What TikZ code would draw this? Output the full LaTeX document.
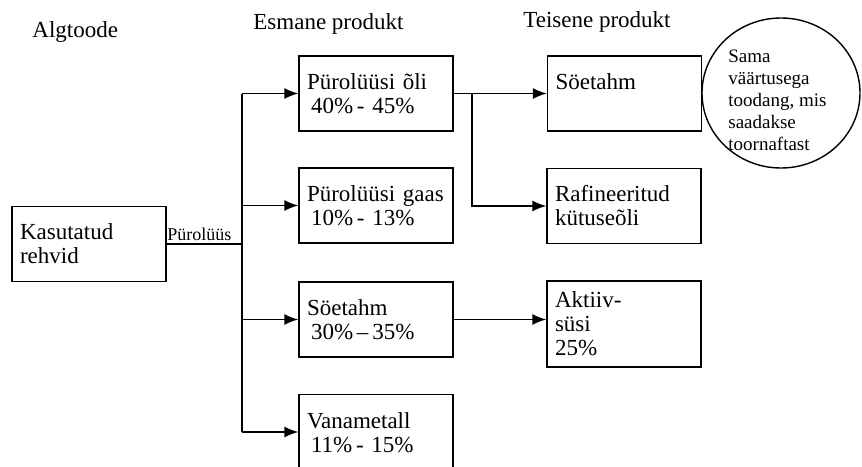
\documentclass[tikz,border=0pt]{standalone}
\usepackage{fontspec}
\setmainfont{Liberation Serif}
\usetikzlibrary{arrows.meta,positioning,shapes.geometric}
\tikzset{prodbox/.style={draw, line width=0.7pt, minimum height=37.5pt, text width=69pt, inner xsep=4pt, align=left, font=\fontsize{11.5}{12}\selectfont}}
\tikzset{heading/.style={anchor=base west, inner sep=0pt, font=\fontsize{11.5}{12}\selectfont}}
\tikzset{conn/.style={draw, line width=0.7pt}}
\tikzset{arr/.style={draw, line width=0.7pt, -{Latex[length=7pt,width=5.5pt]}}}
\newcommand{\pct}[1]{\hspace{2pt}#1}

\begin{document}
\begin{tikzpicture}[x=0.5pt, y=-0.5pt]
			\useasboundingbox (0,0) rectangle (862,466);
			\clip (0,0) rectangle (862,466);
			
			\node[heading] (hsrc) at (32,37){Algtoode};
			\node[heading] (hprim) at (253,29){Esmane produkt};
			\node[heading] (hsec) at (523,27){Teisene produkt};
			
			\node[prodbox] (tyres) at (89,244){Kasutatud\\rehvid};
			
			\node[prodbox] (oil) at (376,93.5){Pürolüüsi õli\\\pct{40\%\,- 45\%}};
			\node[prodbox] (gas) at (376,205.5){Pürolüüsi gaas\\\pct{10\%\,- 13\%}};
			\node[prodbox] (char) at (376,319.5){Söetahm\\\pct{30\%\,–\,35\%}};
			\node[prodbox, text depth=11pt] (metal) at (376,432){Vanametall\\\pct{11\%\,- 15\%}};
			
			\node[prodbox] (soot) at (624.5,93.5){Söetahm\\\mbox{}};
			\node[prodbox] (fuel) at (624,206){Rafineeritud\\kütuseõli};
			\node[prodbox, minimum height=43pt] (carbon) at (624,324){Aktiiv-\\süsi\\25\%};
			
			\node[draw, ellipse, line width=0.7pt, minimum width=79pt, minimum height=75pt] (same) at (781,93){};
			\node[anchor=west, inner sep=0pt, align=left, font=\fontsize{9.5}{11}\selectfont] (sametext) at (728,100){Sama\\väärtusega\\toodang, mis\\saadakse\\toornaftast};
			
			\coordinate (split) at (242,244);
			\coordinate (fork) at (472,93.5);
			
			\draw[conn] (tyres) -- (split);
			\node[anchor=base west, inner sep=0pt, font=\fontsize{9}{9}\selectfont] (pyro) at (167,240){Pürolüüs};
			\draw[conn] (split |- oil) -- (split |- metal);
			\draw[arr] (split |- oil) -- (oil);
			\draw[arr] (split |- gas) -- (gas);
			\draw[arr] (split |- char) -- (char);
			\draw[arr] (split |- metal) -- (metal);
			
			\draw[arr] (oil) -- (soot);
			\draw[arr] (fork) |- (fuel);
			\draw[arr] (char) -- (char -| carbon.west);
		\end{tikzpicture}
\end{document}
